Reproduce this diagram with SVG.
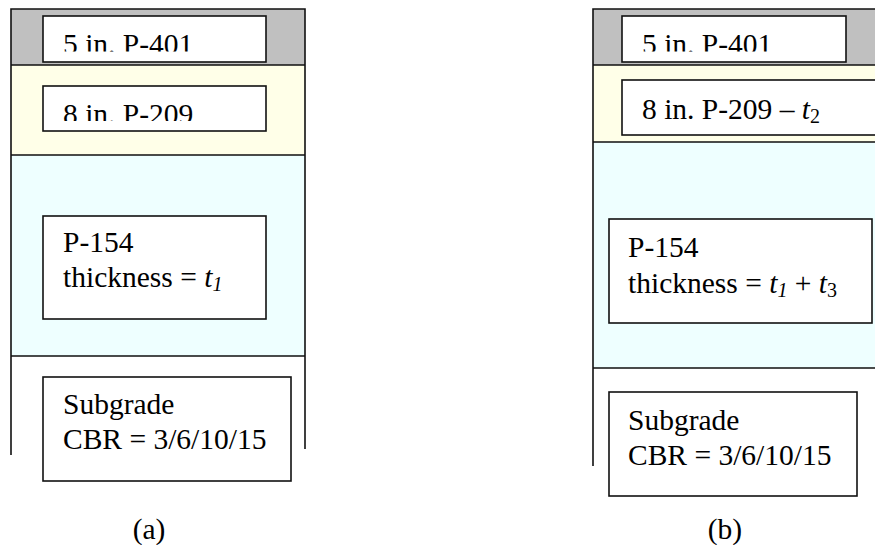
<svg xmlns="http://www.w3.org/2000/svg" width="875" height="545" viewBox="0 0 875 545">
<style>
.t{font-family:"Liberation Serif","Times New Roman",serif;font-size:29.5px;fill:#000}
.i{font-style:italic}
.box{fill:#fff;stroke:#111;stroke-width:1.6}
.ln{stroke:#111;stroke-width:1.6;fill:none}
.gray{fill:#c0c0c0}
.yel{fill:#ffffe8}
.cya{fill:#eeffff}
</style>
<defs>
<clipPath id="c1"><rect x="0" y="0" width="875" height="51.5"/></clipPath>
<clipPath id="c2"><rect x="0" y="80" width="875" height="41"/></clipPath>
</defs>

<g id="column-a">
<rect class="gray" x="11" y="9" width="294" height="56"/>
<rect class="yel" x="11" y="65" width="294" height="90"/>
<rect class="cya" x="11" y="155" width="294" height="201"/>
<path class="ln" d="M11,455 V9 H305 V449 M11,65 H305 M11,155 H305 M11,356 H305"/>
</g>

<g id="a-p401">
<rect class="box" x="43" y="16" width="223" height="46"/>
<text class="t" x="63" y="54" clip-path="url(#c1)">5 in. P-401</text>
</g>
<g id="a-p209">
<rect class="box" x="43" y="86" width="223" height="45"/>
<text class="t" x="63" y="124" clip-path="url(#c2)">8 in. P-209</text>
</g>
<g id="a-p154">
<rect class="box" x="43" y="216" width="223" height="103"/>
<text class="t" x="63" y="252">P-154</text>
<text class="t" x="63" y="287">thickness = <tspan class="i">t</tspan><tspan class="i" font-size="20" dy="4">1</tspan></text>
</g>
<g id="a-subgrade">
<rect class="box" x="43" y="377" width="248" height="104"/>
<text class="t" x="63" y="414">Subgrade</text>
<text class="t" x="63" y="449">CBR = 3/6/10/15</text>
</g>
<g id="label-a">
<text class="t" x="149" y="539" text-anchor="middle">(a)</text>
</g>

<g id="column-b">
<rect class="gray" x="593" y="9" width="300" height="56"/>
<rect class="yel" x="593" y="65" width="300" height="77"/>
<rect class="cya" x="593" y="142" width="300" height="226"/>
<path class="ln" d="M593,466 V9 H893 M593,65 H893 M593,142 H893 M593,368 H893"/>
</g>

<g id="b-p401">
<rect class="box" x="622" y="16" width="224" height="46"/>
<text class="t" x="642" y="54" clip-path="url(#c1)">5 in. P-401</text>
</g>
<g id="b-p209">
<rect class="box" x="622" y="80" width="270" height="55"/>
<text class="t" x="642" y="119">8 in. P-209 – <tspan class="i">t</tspan><tspan font-size="20" dy="4">2</tspan></text>
</g>
<g id="b-p154">
<rect class="box" x="609" y="219" width="263" height="104"/>
<text class="t" x="628" y="257">P-154</text>
<text class="t" x="628" y="293">thickness = <tspan class="i">t</tspan><tspan class="i" font-size="20" dy="4">1</tspan><tspan dy="-4"> + </tspan><tspan class="i">t</tspan><tspan font-size="20" dy="4">3</tspan></text>
</g>
<g id="b-subgrade">
<rect class="box" x="609" y="392" width="248" height="104"/>
<text class="t" x="628" y="430">Subgrade</text>
<text class="t" x="628" y="465">CBR = 3/6/10/15</text>
</g>
<g id="label-b">
<text class="t" x="725" y="539" text-anchor="middle">(b)</text>
</g>
</svg>
